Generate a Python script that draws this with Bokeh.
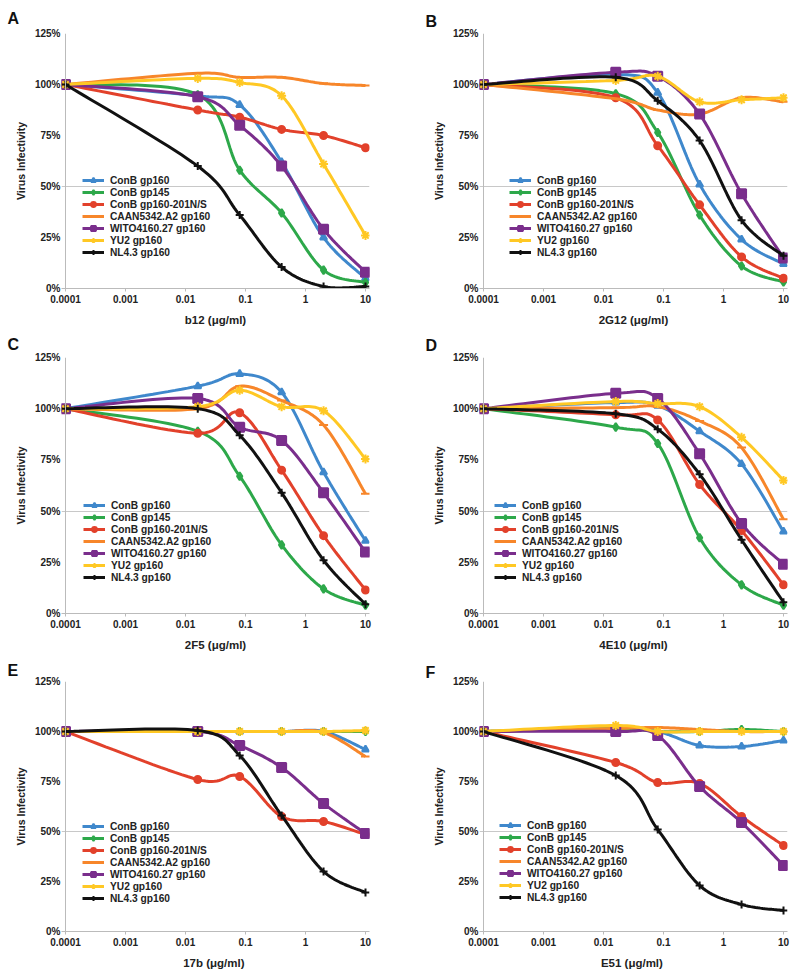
import numpy as np
from bokeh.plotting import figure
from bokeh.models import Legend, LegendItem, FixedTicker, Range1d, Span
from bokeh.layouts import column, row
from bokeh.embed import file_html
from bokeh.resources import INLINE

# ---------------- data ----------------
doses = [0.0001, 0.016, 0.08, 0.4, 2, 10]  # ug/ml
virus_names = ["ConB gp160", "ConB gp145", "ConB gp160-201N/S", "CAAN5342.A2 gp160",
               "WITO4160.27 gp160", "YU2 gp160", "NL4.3 gp160"]
x_ticks = [0.0001, 0.001, 0.01, 0.1, 1, 10]
x_tick_labels = ["0.0001", "0.001", "0.01", "0.1", "1", "10"]
y_ticks = [0, 0.25, 0.5, 0.75, 1.0, 1.25]
y_tick_labels = ["0%", "25%", "50%", "75%", "100%", "125%"]

# virus infectivity (%) per virus, in the order of virus_names
b12_values = [
    [100, 94.5, 90, 62, 25, 5],
    [100, 95, 58, 37, 9, 3],
    [100, 87.5, 84, 78, 75, 69],
    [100, 105.5, 103.5, 103.5, 100.5, 99.5],
    [100, 94, 80, 60, 29, 8],
    [100, 103, 101, 94.5, 61, 26],
    [100, 60, 36, 10.5, 1, 1],
]
mab2g12_values = [
    [100, 105, 96, 51, 24, 12],
    [100, 95.5, 76.5, 36, 11, 3.2],
    [100, 93.5, 70, 41, 15.5, 5],
    [100, 93, 87.5, 85.5, 93.5, 91.5],
    [100, 106, 104, 85.5, 46.5, 15],
    [100, 102, 104, 91.5, 92.5, 93.5],
    [100, 103.5, 92, 72.5, 33.5, 16],
]
mab2f5_values = [
    [100, 111, 117, 108, 69, 35.5],
    [100, 89, 67, 33.5, 12, 4],
    [100, 88, 98, 70, 38, 11.5],
    [100, 100, 111, 104, 92, 58.5],
    [100, 105, 91, 84.5, 59, 30],
    [100, 101, 109, 101, 99, 75.5],
    [100, 100, 87, 59, 26, 4.5],
]
mab4e10_values = [
    [100, 103, 101.5, 89, 73, 40],
    [100, 91, 83, 37, 14, 4],
    [100, 97, 94.5, 63, 40.5, 14],
    [100, 100.5, 101, 94, 81, 46],
    [100, 107.5, 105, 78, 44, 24],
    [100, 103.5, 102.5, 101, 86, 65],
    [100, 97.5, 90, 68, 36, 5.5],
]
mab17b_values = [
    [100, 100, 100, 100, 100, 91],
    [100, 100, 100, 100, 100, 100],
    [100, 76, 77.5, 57.5, 55, 48.5],
    [100, 100, 100, 100, 99.5, 87.5],
    [100, 100, 93, 82, 64, 49],
    [100, 100, 100, 100, 100, 100.5],
    [100, 100.5, 88, 58, 30, 19.5],
]
e51_values = [
    [100, 101, 100, 93, 92.5, 95.5],
    [100, 101.5, 100, 100, 101, 100],
    [100, 84.5, 74.5, 74, 57.5, 43],
    [100, 101.5, 102, 101, 100, 100],
    [100, 100, 98, 72.5, 54.5, 33],
    [100, 103, 100, 100, 100, 100],
    [100, 78, 51, 23, 13.5, 10.5],
]

# ---------------- styles ----------------
colors = ["#3F88CC", "#2DA84A", "#E2412B", "#F7862A", "#7A2E8C", "#FFC824", "#111111"]
markers = ["triangle", "diamond", "circle", "dash", "square", "asterisk", "cross"]
msizes = [7, 8, 7, 9, 9, 9, 8]
FONT = "Liberation Sans"
AXIS_GRAY = "#BBBBBB"
TEXT = "#222222"


def smooth_curve(xs, ys, sx, sy, n=20):
    """Excel-like Bezier smoothing, computed in screen-proportional space."""
    u = np.log10(np.asarray(xs, float)) * sx
    v = np.asarray(ys, float) * sy
    P = np.column_stack([u, v])
    m = len(P)
    out = [P[0]]
    for i in range(m - 1):
        p0 = P[i - 1] if i > 0 else P[i]
        p1, p2 = P[i], P[i + 1]
        p3 = P[i + 2] if i + 2 < m else P[i + 1]
        c1 = p1 + (p2 - p0) / 6.0
        c2 = p2 - (p3 - p1) / 6.0
        t = np.linspace(0, 1, n + 1)[1:, None]
        seg = ((1 - t) ** 3) * p1 + 3 * ((1 - t) ** 2) * t * c1 + 3 * (1 - t) * t ** 2 * c2 + t ** 3 * p2
        out.extend(seg)
    out = np.array(out)
    return 10 ** (out[:, 0] / sx), out[:, 1] / sy


def make_panel(letter, values, xlabel, w, bl, br, bt, fh, bb, legend_xy, letter_up):
    h = bt + fh + bb
    frame_w = w - bl - br
    px_per_dec = (frame_w - 8) / 5.0
    ext = 4.0 / px_per_dec
    p = figure(width=w, height=h, x_axis_type="log",
               x_range=Range1d(1e-4 * 10 ** (-ext), 10 * 10 ** ext),
               y_range=Range1d(0, 1.25),
               output_backend="svg", toolbar_location=None,
               min_border_left=bl, min_border_right=br, min_border_top=bt, min_border_bottom=bb)
    p.outline_line_color = None
    p.background_fill_color = "white"
    p.border_fill_color = "white"
    p.xgrid.visible = False
    p.ygrid.ticker = FixedTicker(ticks=[0.5])
    p.ygrid.grid_line_color = "#C8C8C8"

    # panel letter
    p.title.text = letter
    p.title.align = "left"
    p.title.offset = -54
    p.title.vertical_align = "middle"
    p.title.standoff = int(min(max(0, 2 * letter_up - 24), bt - 20))
    p.title.text_font = FONT
    p.title.text_font_style = "bold"
    p.title.text_font_size = "16px"
    p.title.text_color = "#111111"

    # x axis
    xa = p.xaxis[0]
    xa.ticker = FixedTicker(ticks=x_ticks)
    xa.major_label_overrides = {t: l for t, l in zip(x_ticks, x_tick_labels)}
    xa.minor_tick_line_color = None
    xa.axis_line_color = AXIS_GRAY
    xa.major_tick_line_color = AXIS_GRAY
    xa.major_tick_out = 3
    xa.major_tick_in = 0
    xa.major_label_standoff = 3
    xa.major_label_text_font = FONT
    xa.major_label_text_font_style = "bold"
    xa.major_label_text_font_size = "10px"
    xa.major_label_text_color = TEXT
    xa.axis_label = xlabel
    xa.axis_label_text_font = FONT
    xa.axis_label_text_font_style = "bold"
    xa.axis_label_text_font_size = "11.5px"
    xa.axis_label_text_color = TEXT
    xa.axis_label_standoff = 8

    # y axis
    ya = p.yaxis[0]
    ya.ticker = FixedTicker(ticks=y_ticks)
    ya.major_label_overrides = {t: l for t, l in zip(y_ticks, y_tick_labels)}
    ya.minor_tick_line_color = None
    ya.axis_line_color = None
    ya.major_tick_line_color = None
    ya.major_tick_out = 0
    ya.major_tick_in = 0
    ya.major_label_standoff = 1
    ya.major_label_text_font = FONT
    ya.major_label_text_font_style = "bold"
    ya.major_label_text_font_size = "10px"
    ya.major_label_text_color = TEXT
    ya.axis_label = "Virus Infectivity"
    ya.axis_label_text_font = FONT
    ya.axis_label_text_font_style = "bold"
    ya.axis_label_text_font_size = "10.5px"
    ya.axis_label_text_color = TEXT
    ya.axis_label_standoff = 5
    p.add_layout(Span(location=doses[0], dimension="height", line_color=AXIS_GRAY, line_width=1))

    sx = px_per_dec
    sy = fh / 1.25
    items = []
    for name, vals, col, mk, ms in zip(virus_names, values, colors, markers, msizes):
        yv = [v / 100.0 for v in vals]
        cx, cy = smooth_curve(doses, yv, sx, sy)
        lr = p.line(cx, cy, line_color=col, line_width=3)
        sr = p.scatter(doses, yv, marker=mk, size=ms, fill_color=col, line_color=col, line_width=2)
        items.append(LegendItem(label=name, renderers=[lr, sr]))

    lg = Legend(items=items, location=legend_xy, padding=0, margin=0, spacing=0,
                label_height=12, glyph_height=12, glyph_width=22, label_standoff=6,
                label_text_font=FONT, label_text_font_style="bold", label_text_font_size="10.2px",
                label_text_color=TEXT, background_fill_alpha=0, border_line_color=None)
    p.add_layout(lg)
    return p


# width, border_left, border_right, border_top, frame_height, border_bottom
pa = make_panel("A", b12_values, "b12 (μg/ml)", 418, 61, 49, 33, 255, 42, (21, 30), 18)
pb = make_panel("B", mab2g12_values, "2G12 (μg/ml)", 376, 61, 7, 30, 258, 42, (30, 30), 15)
pc = make_panel("C", mab2f5_values, "2F5 (μg/ml)", 418, 61, 49, 27, 256, 42, (22, 30), 17)
pd = make_panel("D", mab4e10_values, "4E10 (μg/ml)", 376, 61, 7, 25, 258, 42, (15, 30), 15)
pe = make_panel("E", mab17b_values, "17b  (μg/ml)", 418, 61, 49, 26, 250, 42, (21, 27), 14)
pf = make_panel("F", e51_values, "E51  (μg/ml)", 376, 61, 7, 24, 252, 42, (20, 28), 12)

layout = column(row(pa, pb), row(pc, pd), row(pe, pf))
open("out.html", "w").write(file_html(layout, INLINE))
